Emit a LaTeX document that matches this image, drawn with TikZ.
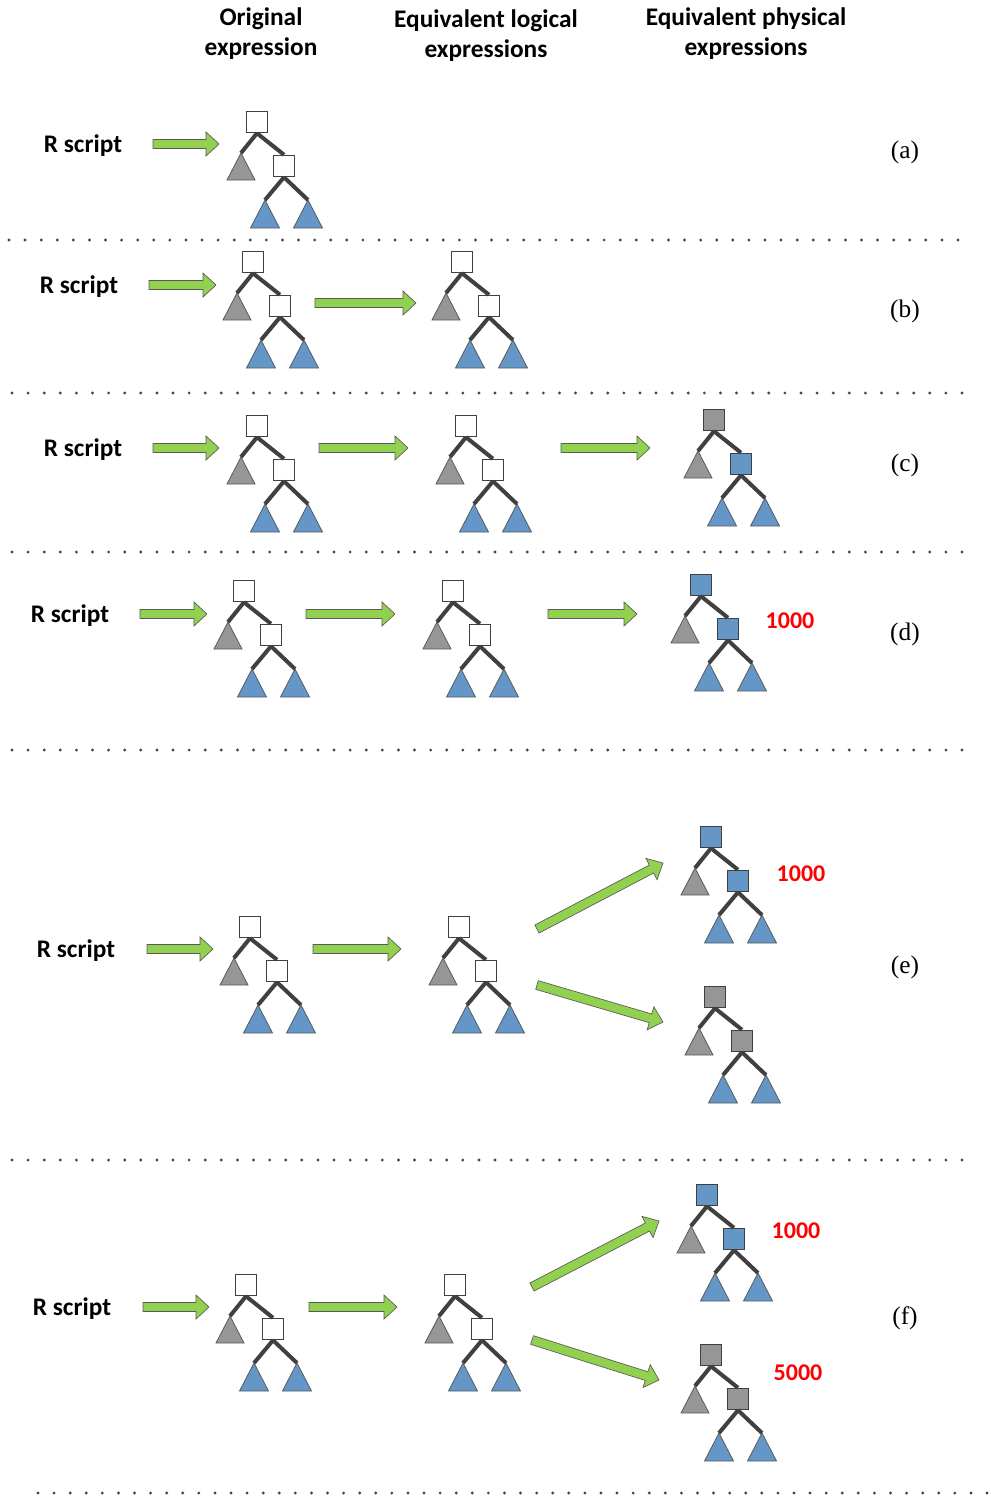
\documentclass[tikz,border=0pt]{standalone}
\usepackage{fontspec}
\setmainfont{Carlito}
\newfontfamily\tms{Liberation Serif}
\usetikzlibrary{calc}
\definecolor{agreen}{HTML}{92D050}
\definecolor{aline}{HTML}{5A5A5A}
\definecolor{tblue}{RGB}{100,150,200}
\definecolor{tgray}{RGB}{150,150,150}
\definecolor{edgec}{RGB}{64,64,64}
\definecolor{dotc}{RGB}{70,70,70}
\tikzset{
  x=0.75pt,y=-0.75pt,
  sq/.style={draw=edgec,line width=1.1pt,minimum size=15.75pt,inner sep=0pt},
  tri/.style={draw=aline,line width=0.6pt,line join=miter},
  edge/.style={draw=edgec,line width=3pt},
  rlab/.style={font=\bfseries\fontsize{19}{22}\selectfont,inner sep=0pt},
  hdr/.style={font=\bfseries\fontsize{19}{22.5}\selectfont,align=center,inner sep=0pt},
  num/.style={font=\bfseries\fontsize{18}{20}\selectfont,text=red,inner sep=0pt},
  tag/.style={font=\tms\fontsize{19}{22}\selectfont,inner sep=0pt},
  garr/.style={draw=aline,line width=0.5pt,fill=agreen,line join=miter}
}
% #1 name, #2 x, #3 y, #4 top fill, #5 middle fill
\newcommand{\mytree}[5]{%
  \coordinate (#1) at (#2,#3);
  \coordinate (#1g) at ($(#1)+(-16,31)$);
  \coordinate (#1l) at ($(#1)+(8,78)$);
  \coordinate (#1r) at ($(#1)+(51,78)$);
  \draw[tri,fill=tgray] (#1g) -- ++(-14,27) -- ++(28,0) -- cycle;
  \draw[tri,fill=tblue] (#1l) -- ++(-14.5,28) -- ++(29,0) -- cycle;
  \draw[tri,fill=tblue] (#1r) -- ++(-14.5,28) -- ++(29,0) -- cycle;
  \node[sq,fill=#4] (#1t) at (#1) {};
  \node[sq,fill=#5] (#1m) at ($(#1)+(27,44)$) {};
  \draw[edge] (#1t.south) -- (#1g);
  \draw[edge] (#1t.south) -- (#1m.north);
  \draw[edge] (#1m.south) -- (#1l);
  \draw[edge] (#1m.south) -- (#1r);
}
% green block arrow from coordinate #1 to coordinate #2
\newcommand{\garrow}[2]{%
  \coordinate (gc) at ($(#2)!9.75pt!(#1)$);
  \draw[garr] ($(#1)!3.4pt!90:(#2)$) -- ($(gc)!3.4pt!-90:(#1)$)
    -- ($(gc)!9pt!-90:(#1)$) -- (#2) -- ($(gc)!9pt!90:(#1)$)
    -- ($(gc)!3.4pt!90:(#1)$) -- ($(#1)!3.4pt!-90:(#2)$) -- cycle;
}
\newcommand{\dotrow}[4]{% y, x start, x end, count of gaps
  \pgfmathsetmacro{\dstep}{(#3-#2)/#4}
  \foreach \k in {0,...,#4}{
    \pgfmathsetmacro{\xx}{#2+\k*\dstep}
    \fill[dotc] (\xx,#1) circle [radius=1.2pt];
  }
}
\begin{document}
\begin{tikzpicture}
\useasboundingbox (0,0) rectangle (991,1500);

% headers
\node[hdr] (h1) at (261,34) {Original\\expression};
\node[hdr] (h2) at (486,36) {Equivalent logical\\expressions};
\node[hdr] (h3) at (746,34) {Equivalent physical\\expressions};

% separators
\dotrow{240}{9}{958}{59}
\dotrow{393}{12}{962}{59}
\dotrow{552}{12}{962}{59}
\dotrow{750}{12}{962}{59}
\dotrow{1160}{12}{962}{59}
\dotrow{1493}{38}{987}{59}

% ---------- row (a)
\node[rlab] (ra) at (83,146) {R script};
\coordinate (a1s) at (153,144); \coordinate (a1e) at (219,144);
\garrow{a1s}{a1e}
\mytree{ta}{257}{122}{white}{white}
\node[tag] (la) at (905,152) {(a)};

% ---------- row (b)
\node[rlab] (rb) at (79,287) {R script};
\coordinate (b1s) at (149,285); \coordinate (b1e) at (216,285);
\garrow{b1s}{b1e}
\mytree{tbo}{253}{262}{white}{white}
\coordinate (b2s) at (315,303); \coordinate (b2e) at (416,303);
\garrow{b2s}{b2e}
\mytree{tbl}{462}{262}{white}{white}
\node[tag] (lb) at (905,311) {(b)};

% ---------- row (c)
\node[rlab] (rc) at (83,450) {R script};
\coordinate (c1s) at (153,448); \coordinate (c1e) at (219,448);
\garrow{c1s}{c1e}
\mytree{tco}{257}{426}{white}{white}
\coordinate (c2s) at (319,448); \coordinate (c2e) at (408,448);
\garrow{c2s}{c2e}
\mytree{tcl}{466}{426}{white}{white}
\coordinate (c3s) at (561,448); \coordinate (c3e) at (650,448);
\garrow{c3s}{c3e}
\mytree{tcp}{714}{420}{tgray}{tblue}
\node[tag] (lc) at (905,465) {(c)};

% ---------- row (d)
\node[rlab] (rd) at (70,616) {R script};
\coordinate (d1s) at (140,614); \coordinate (d1e) at (207,614);
\garrow{d1s}{d1e}
\mytree{tdo}{244}{591}{white}{white}
\coordinate (d2s) at (306,614); \coordinate (d2e) at (395,614);
\garrow{d2s}{d2e}
\mytree{tdl}{453}{591}{white}{white}
\coordinate (d3s) at (548,614); \coordinate (d3e) at (637,614);
\garrow{d3s}{d3e}
\mytree{tdp}{701}{585}{tblue}{tblue}
\node[num] (nd) at (790,621) {1000};
\node[tag] (ld) at (905,634) {(d)};

% ---------- row (e)
\node[rlab] (re) at (76,951) {R script};
\coordinate (e1s) at (147,949); \coordinate (e1e) at (213,949);
\garrow{e1s}{e1e}
\mytree{teo}{250}{927}{white}{white}
\coordinate (e2s) at (313,949); \coordinate (e2e) at (401,949);
\garrow{e2s}{e2e}
\mytree{tel}{459}{927}{white}{white}
\coordinate (e3s) at (537,929); \coordinate (e3e) at (663,863);
\garrow{e3s}{e3e}
\coordinate (e4s) at (537,985); \coordinate (e4e) at (663,1022);
\garrow{e4s}{e4e}
\mytree{tep}{711}{837}{tblue}{tblue}
\mytree{teq}{715}{997}{tgray}{tgray}
\node[num] (ne) at (801,874) {1000};
\node[tag] (le) at (905,967) {(e)};

% ---------- row (f)
\node[rlab] (rf) at (72,1309) {R script};
\coordinate (f1s) at (143,1307); \coordinate (f1e) at (209,1307);
\garrow{f1s}{f1e}
\mytree{tfo}{246}{1285}{white}{white}
\coordinate (f2s) at (309,1307); \coordinate (f2e) at (397,1307);
\garrow{f2s}{f2e}
\mytree{tfl}{455}{1285}{white}{white}
\coordinate (f3s) at (532,1287); \coordinate (f3e) at (659,1221);
\garrow{f3s}{f3e}
\coordinate (f4s) at (532,1340); \coordinate (f4e) at (659,1380);
\garrow{f4s}{f4e}
\mytree{tfp}{707}{1195}{tblue}{tblue}
\mytree{tfq}{711}{1355}{tgray}{tgray}
\node[num] (nf1) at (796,1231) {1000};
\node[num] (nf2) at (798,1373) {5000};
\node[tag] (lf) at (905,1318) {(f)};
\end{tikzpicture}
\end{document}
